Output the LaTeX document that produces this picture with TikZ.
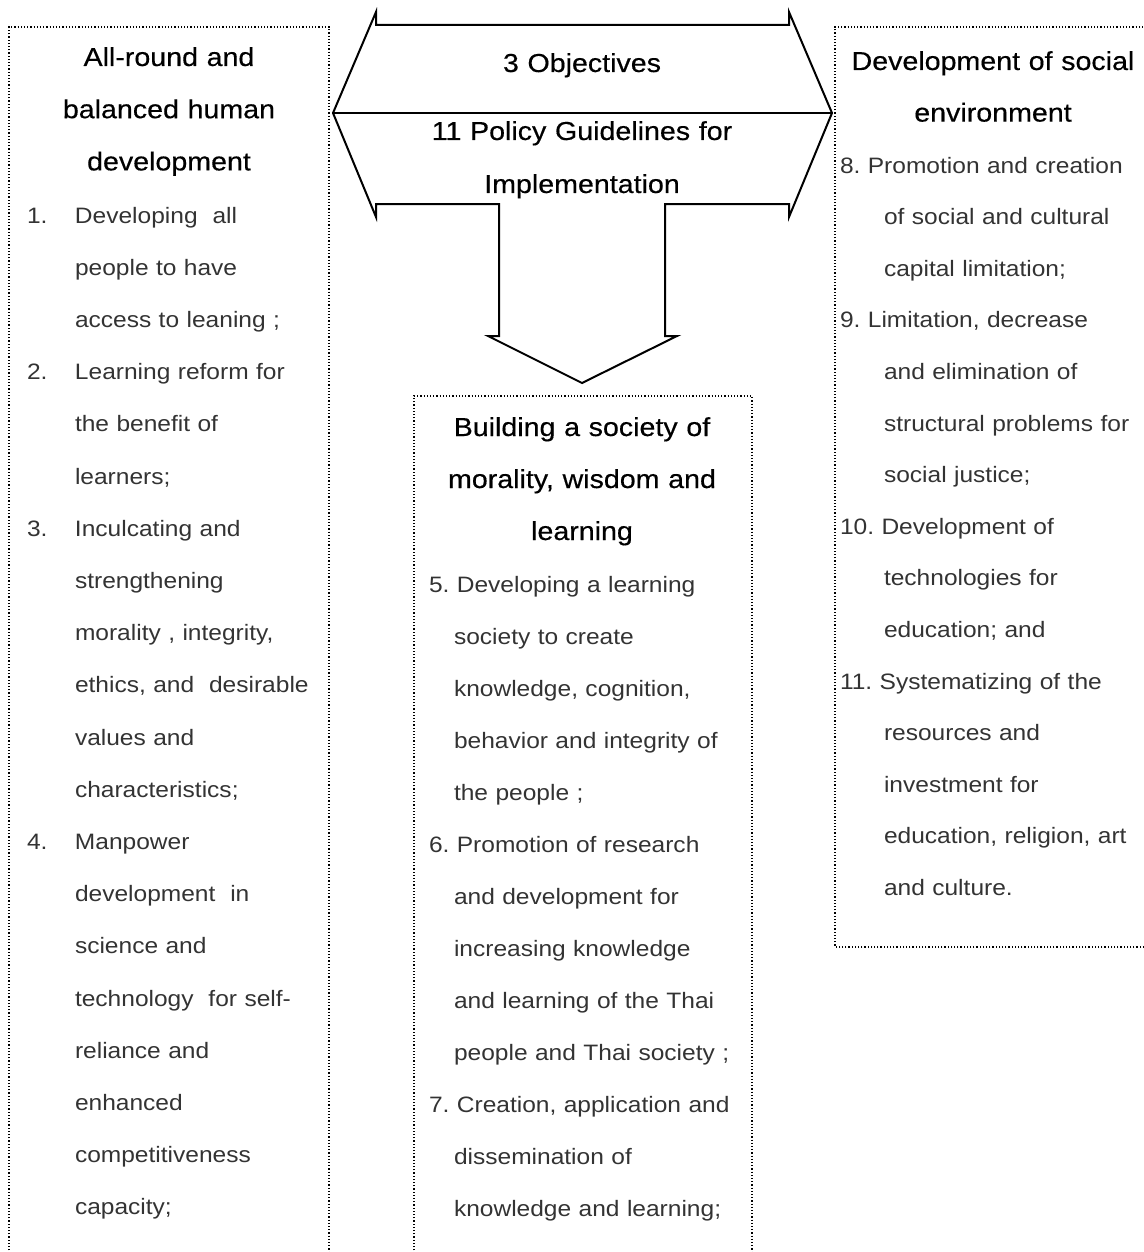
\documentclass[tikz,border=0pt]{standalone}
\usepackage{fontspec}
\setmainfont{Liberation Sans}[FakeStretch=1.1]
\newfontfamily\headfam{Liberation Sans}[FakeStretch=1.1,FakeBold=0.4]
\definecolor{bodygray}{RGB}{51,51,51}
\newcommand{\headfont}[1]{\headfam\fontsize{13pt}{#1}\selectfont}
\newcommand{\bodyfont}[1]{\fontsize{11.15pt}{#1}\selectfont\frenchspacing}
% numbered item with the number in a fixed column
\newcommand{\numitem}[2]{\hangindent=24pt\hangafter=1\noindent\makebox[24pt][l]{#1}{\let\\\newline #2}\par}
% numbered item, later lines indented by #1
\newcommand{\hangitem}[2]{\hangindent=#1\hangafter=1\noindent{\let\\\newline #2}\par}

\begin{document}
\begin{tikzpicture}[x=0.5pt,y=-0.5pt,line join=miter]
 \tikzstyle{every node}=[inner sep=0pt,outer sep=0pt]
 \tikzstyle{frame}=[densely dotted,line width=0.6pt]
 \tikzstyle{blockarrow}=[line width=1pt]
 \tikzstyle{heading}=[text width=190pt,align=center,anchor=base]
 \tikzstyle{items}=[text width=220pt,anchor=base west,text=bodygray]
 \useasboundingbox (0,0) rectangle (1144,1252);

 % dotted frames
 \draw[frame] (9,1260) -- (9,27) -- (329,27) -- (329,1260);
 \draw[frame] (414,1260) -- (414,396) -- (752,396) -- (752,1260);
 \draw[frame] (1160,947) -- (835,947) -- (835,27) -- (1160,27);

 % arrow: left, right and down
 \coordinate (ltip) at (333,113);
 \coordinate (rtip) at (832,113);
 \coordinate (dtip) at (582,383);
 \draw[blockarrow] (376,25) -- (376,12) -- (ltip) -- (376,217) -- (376,204)
   -- (499,204) -- (499,336) -- (488,336) -- (dtip) -- (677,336) -- (665,336)
   -- (665,204) -- (789,204) -- (789,217) -- (rtip) -- (789,12) -- (789,25) -- cycle;
 \draw[blockarrow] (ltip) -- (rtip);
 \node[heading,font={\headfont{26pt}}] (obj) at (582,72) {3 Objectives};
 \node[heading,font={\headfont{26.5pt}}] (policy) at (582,140) {11 Policy Guidelines for\\ Implementation};

 % left column
 \node[heading,font={\headfont{26.1pt}}] (hdhuman) at (169,66) {All-round and\\ balanced human\\ development};
 \node[items,font={\bodyfont{26.1pt}}] (lshuman) at (27,223) {%
 \numitem{1.}{Developing\ \ all\\ people to have\\ access to leaning ;}
 \numitem{2.}{Learning reform for\\ the benefit of\\ learners;}
 \numitem{3.}{Inculcating and\\ strengthening\\ morality , integrity,\\ ethics, and\ \ desirable\\ values and\\ characteristics;}
 \numitem{4.}{Manpower\\ development\ \ in\\ science and\\ technology\ \ for self-\\ reliance and\\ enhanced\\ competitiveness\\ capacity;}};

 % middle column
 \node[heading,font={\headfont{26pt}}] (hdsociety) at (582,436) {Building a society of\\ morality, wisdom and\\ learning};
 \node[items,font={\bodyfont{26pt}}] (lssociety) at (429,592) {%
 \hangitem{12.5pt}{5. Developing a learning\\ society to create\\ knowledge, cognition,\\ behavior and integrity of\\ the people ;}
 \hangitem{12.5pt}{6. Promotion of research\\ and development for\\ increasing knowledge\\ and learning of the Thai\\ people and Thai society ;}
 \hangitem{12.5pt}{7. Creation, application and\\ dissemination of\\ knowledge and learning;}};

 % right column
 \node[heading,font={\headfont{25.8pt}}] (hdenv) at (993,70) {Development of social\\ environment};
 \node[items,font={\bodyfont{25.8pt}}] (lsenv) at (840,173) {%
 \hangitem{22pt}{8. Promotion and creation\\ of social and cultural\\ capital limitation;}
 \hangitem{22pt}{9. Limitation, decrease\\ and elimination of\\ structural problems for\\ social justice;}
 \hangitem{22pt}{10. Development of\\ technologies for\\ education; and}
 \hangitem{22pt}{11. Systematizing of the\\ resources and\\ investment for\\ education, religion, art\\ and culture.}};
\end{tikzpicture}
\end{document}
